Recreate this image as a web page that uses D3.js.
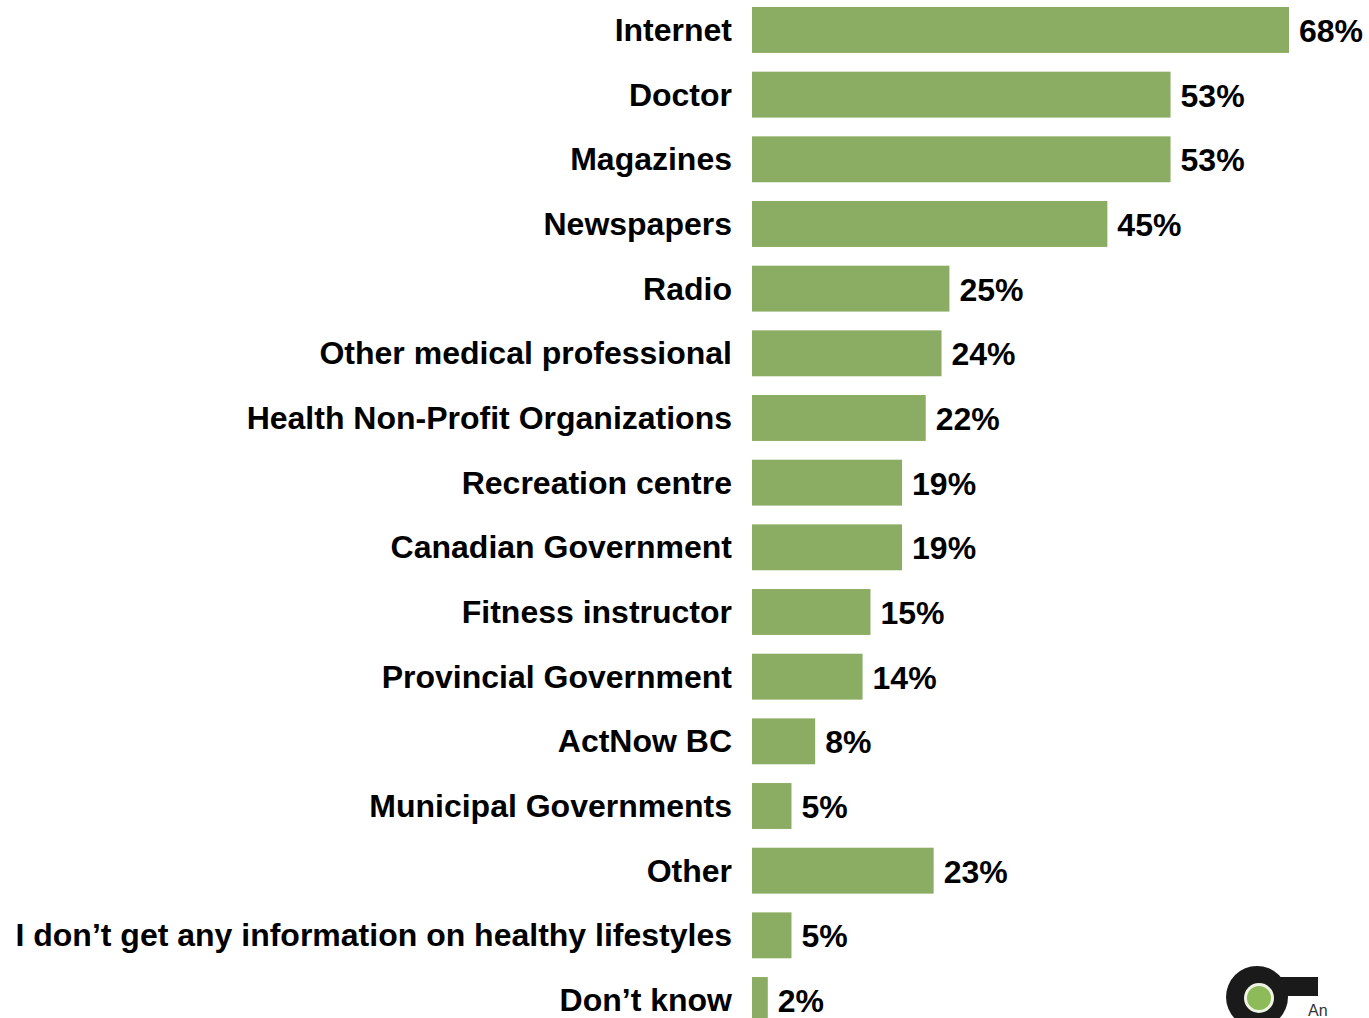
<!DOCTYPE html>
<html>
<head>
<meta charset="utf-8">
<script src="https://cdn.jsdelivr.net/npm/d3@7"></script>
<style>
  body { margin: 0; background: #fff; }
  svg { display: block; }
</style>
</head>
<body>
<script>
// where people get info on healthy lifestyles
var categories = ["Internet", "Doctor", "Magazines", "Newspapers", "Radio",
  "Other medical professional", "Health Non-Profit Organizations", "Recreation centre",
  "Canadian Government", "Fitness instructor", "Provincial Government", "ActNow BC",
  "Municipal Governments", "Other", "I don\u2019t get any information on healthy lifestyles",
  "Don\u2019t know"];
var values = [68, 53, 53, 45, 25, 24, 22, 19, 19, 15, 14, 8, 5, 23, 5, 2];

var width = 1369, height = 1018;
var x0 = 752;
var step = 64.67;

var svg = d3.select("body").append("svg")
    .attr("width", width)
    .attr("height", height);

var x = d3.scaleLinear()
    .domain([0, 68])
    .range([x0, 1289]);

var y = d3.scaleBand()
    .domain(categories)
    .range([7 - 0.145 * step, 7 - 0.145 * step + categories.length * step])
    .paddingInner(0.29)
    .paddingOuter(0.145);

var data = categories.map(function(c, i) { return {cat: c, val: values[i]}; });

svg.selectAll("rect.bar")
    .data(data)
    .enter().append("rect")
    .attr("class", "bar")
    .attr("x", x(0))
    .attr("y", function(d) { return y(d.cat); })
    .attr("width", function(d) { return x(d.val) - x(0); })
    .attr("height", y.bandwidth())
    .attr("fill", "#8aad63");

// category labels
svg.selectAll("text.cat")
    .data(data)
    .enter().append("text")
    .attr("class", "cat")
    .attr("x", 732)
    .attr("y", function(d) { return y(d.cat) + y.bandwidth() / 2 + 11; })
    .attr("text-anchor", "end")
    .attr("font-family", "'Liberation Sans', Arial, sans-serif")
    .attr("font-weight", "bold")
    .attr("font-size", 32)
    .attr("fill", "#000")
    .text(function(d) { return d.cat; });

// value labels
svg.selectAll("text.val")
    .data(data)
    .enter().append("text")
    .attr("class", "val")
    .attr("x", function(d) { return x(d.val) + 10; })
    .attr("y", function(d) { return y(d.cat) + y.bandwidth() / 2 + 12; })
    .attr("font-family", "'Liberation Sans', Arial, sans-serif")
    .attr("font-weight", "bold")
    .attr("font-size", 32)
    .attr("fill", "#000")
    .text(function(d) { return d.val + "%"; });

// logo in the corner (cut off by the page edge)
var logo = svg.append("g");
logo.append("circle")
    .attr("cx", 1257).attr("cy", 997)
    .attr("r", 31)
    .attr("fill", "#1a1a1a");
logo.append("rect")
    .attr("x", 1270).attr("y", 977)
    .attr("width", 48).attr("height", 19)
    .attr("fill", "#1a1a1a");
logo.append("circle")
    .attr("cx", 1259).attr("cy", 998)
    .attr("r", 15)
    .attr("fill", "#eef3e6");
logo.append("circle")
    .attr("cx", 1259).attr("cy", 998)
    .attr("r", 12)
    .attr("fill", "#8dbb5a");
logo.append("text")
    .attr("x", 1308).attr("y", 1016)
    .attr("font-family", "'Liberation Sans', Arial, sans-serif")
    .attr("font-size", 16)
    .attr("fill", "#333")
    .text("An");
</script>
</body>
</html>
